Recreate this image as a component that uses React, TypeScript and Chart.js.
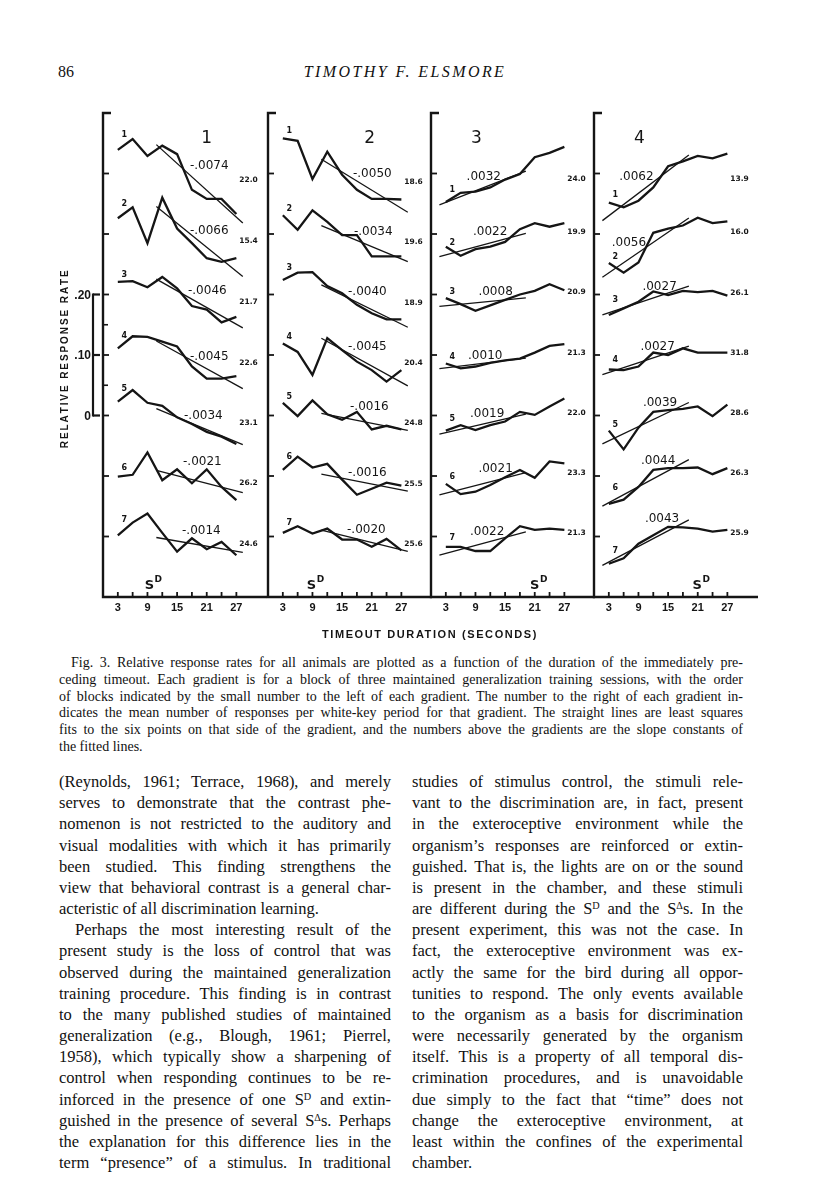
import React, { useEffect, useRef } from "react";
import { Chart, registerables } from "chart.js";

Chart.register(...registerables);

// ---------------- data ----------------
const TIMEOUT_SECONDS = [3, 6, 9, 12, 15, 18, 21, 24, 27];
const TICK_LABEL_VALUES = [3, 9, 15, 21, 27];
const GRADIENT_NUMBERS = ["1", "2", "3", "4", "5", "6", "7"];
const PANEL_TITLES = ["1", "2", "3", "4"];

// relative response rate of each gradient (blocks 1..7), one row per block
const ANIMAL1_RATES = [
  [0.039, 0.057, 0.029, 0.046, 0.032, -0.027, -0.042, -0.042, -0.067],
  [0.026, 0.044, -0.015, 0.06, 0.009, -0.015, -0.04, -0.046, -0.04],
  [0.021, 0.022, 0.012, 0.029, 0.01, -0.019, -0.025, -0.046, -0.037],
  [0.011, 0.031, 0.03, 0.022, 0.014, -0.019, -0.039, -0.039, -0.035],
  [0.023, 0.042, 0.021, 0.016, -0.003, -0.014, -0.027, -0.035, -0.047],
  [-0.001, 0.002, 0.039, -0.007, 0.011, -0.012, 0.011, -0.018, -0.04],
  [0.002, 0.023, 0.038, 0.006, -0.025, -0.003, -0.021, -0.009, -0.031],
];
const ANIMAL2_RATES = [
  [0.058, 0.054, -0.009, 0.036, -0.002, -0.027, -0.042, -0.042, -0.043],
  [0.031, 0.007, 0.039, 0.02, -0.002, -0.002, -0.037, -0.037, -0.037],
  [0.024, 0.036, 0.037, 0.014, 0.002, -0.017, -0.031, -0.041, -0.041],
  [0.019, 0.005, -0.033, 0.028, 0.008, -0.011, -0.025, -0.044, -0.025],
  [0.021, -0.001, 0.025, 0.002, -0.007, 0.006, -0.023, -0.017, -0.023],
  [0.01, 0.032, 0.014, 0.02, -0.006, -0.031, -0.021, -0.011, -0.016],
  [0.006, 0.017, 0.005, 0.013, -0.005, -0.005, -0.017, -0.004, -0.023],
];
const ANIMAL3_RATES = [
  [-0.047, -0.032, -0.03, -0.023, -0.01, -0.001, 0.027, 0.034, 0.044],
  [-0.021, -0.036, -0.025, -0.021, -0.013, 0.008, 0.018, 0.012, 0.018],
  [-0.006, -0.016, -0.027, -0.018, -0.009, 0.0, 0.006, 0.017, 0.007],
  [-0.014, -0.022, -0.019, -0.013, -0.009, -0.006, 0.004, 0.015, 0.018],
  [-0.025, -0.016, -0.024, -0.016, -0.01, 0.006, 0.001, 0.015, 0.028],
  [-0.013, -0.03, -0.026, -0.015, -0.002, 0.01, -0.003, 0.024, 0.021],
  [-0.017, -0.017, -0.024, -0.024, -0.003, 0.017, 0.011, 0.013, 0.011],
];
const ANIMAL4_RATES = [
  [-0.048, -0.056, -0.045, -0.023, 0.012, 0.02, 0.029, 0.025, 0.033],
  [-0.048, -0.064, -0.047, 0.002, 0.009, 0.014, 0.027, 0.018, 0.021],
  [-0.034, -0.023, -0.012, 0.005, -0.001, 0.006, 0.004, 0.006, -0.002],
  [-0.024, -0.025, -0.019, 0.004, 0.0, 0.011, 0.004, 0.004, 0.004],
  [-0.025, -0.056, -0.02, 0.006, 0.009, 0.011, 0.015, -0.001, 0.018],
  [-0.046, -0.039, -0.018, 0.01, 0.013, 0.013, 0.014, 0.003, 0.013],
  [-0.045, -0.036, -0.012, 0.002, 0.016, 0.015, 0.013, 0.008, 0.011],
];

// slope constants of the fitted lines
const ANIMAL1_SLOPES = [-0.0074, -0.0066, -0.0046, -0.0045, -0.0034, -0.0021, -0.0014];
const ANIMAL2_SLOPES = [-0.005, -0.0034, -0.004, -0.0045, -0.0016, -0.0016, -0.002];
const ANIMAL3_SLOPES = [0.0032, 0.0022, 0.0008, 0.001, 0.0019, 0.0021, 0.0022];
const ANIMAL4_SLOPES = [0.0062, 0.0056, 0.0027, 0.0027, 0.0039, 0.0044, 0.0043];

// mean responses per white-key period
const ANIMAL1_MEANS = ["22.0", "15.4", "21.7", "22.6", "23.1", "26.2", "24.6"];
const ANIMAL2_MEANS = ["18.6", "19.6", "18.9", "20.4", "24.8", "25.5", "25.6"];
const ANIMAL3_MEANS = ["24.0", "19.9", "20.9", "21.3", "22.0", "23.3", "21.3"];
const ANIMAL4_MEANS = ["13.9", "16.0", "26.1", "31.8", "28.6", "26.3", "25.9"];

// S-D position (seconds) per animal and side of the fitted six points
const SD_SECONDS = [9, 9, 21, 21];
const FIT_SIDE = ["right", "right", "left", "left"];

const SCALE_BAR_VALUES = [0.2, 0.1, 0];
const SCALE_BAR_LABELS = [".20", ".10", "0"];
const Y_TITLE = "RELATIVE RESPONSE RATE";
const X_TITLE = "TIMEOUT DURATION (SECONDS)";
const GRADIENT_SPACING = 0.1;

// ---------------- layout (positions / styles) ----------------
const INK = "#151515";
const X_MAX = 33.2;
const Y_MAX = 0.8;
const PANEL_AXIS_X = [103, 268, 431, 594];
const PANEL_WIDTH = 164;
const CANVAS_TOP = 100;
const PAD_T = 13;
const PLOT_H = 484;
const X_AXIS_H = 22;
const PAD_B = 10;
const FIT_EXTENT = { right: [10.8, 28.3], left: [1.7, 19.2] };
const SLOPE_LABEL_X = [
  [17.6, 17.6, 17.2, 17.6, 16.4, 16.2, 16.0],
  [17.2, 17.4, 16.2, 16.2, 16.6, 16.2, 16.0],
  [7.2, 8.5, 9.6, 7.5, 7.9, 9.6, 7.9],
  [5.1, 3.6, 9.8, 9.4, 9.9, 9.5, 10.3],
];
const SLOPE_LABEL_DY = [
  [7.5, 3.3, 3.8, -2, -0.5, 14.3, 5.5],
  [-0.8, 2.3, 2.8, 8.3, 8.8, 2.7, 6.5],
  [-3.2, 1.7, 2.8, -1, 1.5, 6.7, 4.2],
  [-3.2, -8.7, 7.8, 8.3, 12.2, 15.3, 17.5],
];
const MEAN_LABEL_DY = [
  [6.5, 7, 7.2, 7.7, 7.8, 7.3, 7.5],
  [8.2, 8.3, 8.2, 7.7, 7.2, 8, 7.8],
  [5.5, -2.3, -2.5, -2.3, -2.8, -3.3, -3.8],
  [5.5, -2.3, -1.2, -1.7, -2.8, -3.3, -3.8],
];
const NUMBER_LABEL_DY = [
  [15, 14, 7, 12, 13, 9, 15],
  [7, 6, 12, 7, 6, 13, 10],
  [12, 4, 6, 7, 12, 7, 9],
  [8, 6, 15, 10, 6, 16, 13],
];
const PANEL_TITLE_X = [21, 20.6, 9.2, 9.2];
const SD_LABEL_OFFSET = [0.4, -0.2, 0, -0.1];

const PANELS = [
  { rates: ANIMAL1_RATES, slopes: ANIMAL1_SLOPES, means: ANIMAL1_MEANS },
  { rates: ANIMAL2_RATES, slopes: ANIMAL2_SLOPES, means: ANIMAL2_MEANS },
  { rates: ANIMAL3_RATES, slopes: ANIMAL3_SLOPES, means: ANIMAL3_MEANS },
  { rates: ANIMAL4_RATES, slopes: ANIMAL4_SLOPES, means: ANIMAL4_MEANS },
];

const CAPTION_LINES = [
  "Fig. 3. Relative response rates for all animals are plotted as a function of the duration of the immediately pre-",
  "ceding timeout. Each gradient is for a block of three maintained generalization training sessions, with the order",
  "of blocks indicated by the small number to the left of each gradient. The number to the right of each gradient in-",
  "dicates the mean number of responses per white-key period for that gradient. The straight lines are least squares",
  "fits to the six points on that side of the gradient, and the numbers above the gradients are the slope constants of",
  "the fitted lines.",
];

const LEFT_COLUMN = [
  "(Reynolds, 1961; Terrace, 1968), and merely",
  "serves to demonstrate that the contrast phe-",
  "nomenon is not restricted to the auditory and",
  "visual modalities with which it has primarily",
  "been studied. This finding strengthens the",
  "view that behavioral contrast is a general char-",
  "acteristic of all discrimination learning.",
  "Perhaps the most interesting result of the",
  "present study is the loss of control that was",
  "observed during the maintained generalization",
  "training procedure. This finding is in contrast",
  "to the many published studies of maintained",
  "generalization (e.g., Blough, 1961; Pierrel,",
  "1958), which typically show a sharpening of",
  "control when responding continues to be re-",
  "inforced in the presence of one S^D and extin-",
  "guished in the presence of several S^Δs. Perhaps",
  "the explanation for this difference lies in the",
  "term \u201cpresence\u201d of a stimulus. In traditional",
];
const RIGHT_COLUMN = [
  "studies of stimulus control, the stimuli rele-",
  "vant to the discrimination are, in fact, present",
  "in the exteroceptive environment while the",
  "organism\u2019s responses are reinforced or extin-",
  "guished. That is, the lights are on or the sound",
  "is present in the chamber, and these stimuli",
  "are different during the S^D and the S^Δs. In the",
  "present experiment, this was not the case. In",
  "fact, the exteroceptive environment was ex-",
  "actly the same for the bird during all oppor-",
  "tunities to respond. The only events available",
  "to the organism as a basis for discrimination",
  "were necessarily generated by the organism",
  "itself. This is a property of all temporal dis-",
  "crimination procedures, and is unavoidable",
  "due simply to the fact that \u201ctime\u201d does not",
  "change the exteroceptive environment, at",
  "least within the confines of the experimental",
  "chamber.",
];
const LEFT_PARAGRAPH_ENDS = [6];
const LEFT_INDENTED = [7];
const RIGHT_PARAGRAPH_ENDS = [18];

function formatSlope(s: number) {
  const t = Math.abs(s).toFixed(4).replace(/^0/, "");
  return (s < 0 ? "-" : "") + t;
}

function drawSpaced(ctx: CanvasRenderingContext2D, text: string, cx: number, cy: number, total: number) {
  const chars = text.split("");
  const widths = chars.map((c) => ctx.measureText(c).width);
  const natural = widths.reduce((a, b) => a + b, 0);
  const gap = (total - natural) / (chars.length - 1);
  let px = cx - total / 2;
  ctx.textAlign = "left";
  chars.forEach((c, i) => {
    ctx.fillText(c, px, cy);
    px += widths[i] + gap;
  });
}

function PanelChart({ index }: { index: number }) {
  const ref = useRef<HTMLCanvasElement | null>(null);
  const padL = index === 0 ? 55 : 10;
  const padR = 12;
  const width = padL + PANEL_WIDTH + padR;
  const height = PAD_T + PLOT_H + X_AXIS_H + PAD_B;
  const left = PANEL_AXIS_X[index] - padL;

  useEffect(() => {
    const panel = PANELS[index];
    const side = FIT_SIDE[index] as "right" | "left";
    const fitIdx = side === "right" ? [3, 4, 5, 6, 7, 8] : [0, 1, 2, 3, 4, 5];
    const datasets: any[] = [];
    panel.rates.forEach((row, g) => {
      const base = (GRADIENT_NUMBERS.length - g) * GRADIENT_SPACING;
      datasets.push({
        data: TIMEOUT_SECONDS.map((s, j) => ({ x: s, y: base + row[j] })),
        borderColor: INK,
        borderWidth: 2.3,
        pointRadius: 0,
        fill: false,
        tension: 0,
        borderJoinStyle: "miter",
      });
      const mx = fitIdx.reduce((a, j) => a + TIMEOUT_SECONDS[j], 0) / fitIdx.length;
      const my = fitIdx.reduce((a, j) => a + row[j], 0) / fitIdx.length;
      const [x0, x1] = FIT_EXTENT[side];
      const slope = panel.slopes[g];
      datasets.push({
        data: [
          { x: x0, y: base + my + slope * (x0 - mx) },
          { x: x1, y: base + my + slope * (x1 - mx) },
        ],
        borderColor: INK,
        borderWidth: 1.3,
        pointRadius: 0,
        fill: false,
        tension: 0,
      });
    });

    const decor = {
      id: "panelDecor",
      afterDatasetsDraw(chart: any) {
        const { ctx, scales } = chart;
        const xs = scales.x;
        const ys = scales.y;
        const ax = xs.getPixelForValue(0);
        const xEnd = xs.getPixelForValue(X_MAX);
        const yTop = ys.getPixelForValue(Y_MAX);
        const yBot = ys.getPixelForValue(0);
        const line = (a: number, b: number, c: number, d: number) => {
          ctx.beginPath();
          ctx.moveTo(a, b);
          ctx.lineTo(c, d);
          ctx.stroke();
        };
        ctx.save();
        ctx.strokeStyle = INK;
        ctx.fillStyle = INK;
        ctx.lineJoin = "miter";
        ctx.lineCap = "butt";
        // axis frame
        ctx.lineWidth = 2.4;
        ctx.beginPath();
        ctx.moveTo(ax + 8, yTop);
        ctx.lineTo(ax, yTop);
        ctx.lineTo(ax, yBot);
        ctx.lineTo(xEnd, yBot);
        ctx.stroke();
        // y ticks
        ctx.lineWidth = 1.8;
        for (let k = 1; k < GRADIENT_NUMBERS.length + 1; k++) {
          const py = ys.getPixelForValue(k * GRADIENT_SPACING);
          line(ax, py, ax + 6, py);
        }
        // x ticks
        TIMEOUT_SECONDS.forEach((s) => {
          const px = xs.getPixelForValue(s);
          line(px, yBot, px, yBot - 5);
        });
        ctx.textBaseline = "middle";
        // labels per gradient
        panel.rates.forEach((row, g) => {
          const base = (GRADIENT_NUMBERS.length - g) * GRADIENT_SPACING;
          const basePx = ys.getPixelForValue(base);
          ctx.font = "bold 8px 'DejaVu Sans'";
          ctx.textAlign = "center";
          const firstPx = ys.getPixelForValue(base + row[0]);
          ctx.fillText(GRADIENT_NUMBERS[g], xs.getPixelForValue(4.3), firstPx - NUMBER_LABEL_DY[index][g]);
          ctx.font = "12px 'DejaVu Sans'";
          ctx.textAlign = "left";
          ctx.fillText(formatSlope(panel.slopes[g]), xs.getPixelForValue(SLOPE_LABEL_X[index][g]), basePx - SLOPE_LABEL_DY[index][g]);
          ctx.font = "bold 7.5px 'DejaVu Sans'";
          ctx.fillText(panel.means[g], xs.getPixelForValue(27.6), basePx + MEAN_LABEL_DY[index][g]);
        });
        // panel title
        ctx.font = "17px 'DejaVu Sans'";
        ctx.textAlign = "center";
        ctx.fillText(PANEL_TITLES[index], xs.getPixelForValue(PANEL_TITLE_X[index]), yTop + 26);
        // S-D marker
        ctx.font = "bold 13px 'DejaVu Sans'";
        const sx = xs.getPixelForValue(SD_SECONDS[index] + SD_LABEL_OFFSET[index]);
        const sy = yBot - 11;
        ctx.fillText("S", sx, sy);
        const sw = ctx.measureText("S").width;
        ctx.font = "bold 9px 'DejaVu Sans'";
        ctx.textAlign = "left";
        ctx.fillText("D", sx + sw / 2 + 0.5, sy - 6);

        if (index === 0) {
          ctx.lineWidth = 1.6;
          [0.35, 0.45].forEach((v) => {
            const py = ys.getPixelForValue(v);
            line(ax, py, ax + 5, py);
          });
          // scale bar
          const origin = 3 * GRADIENT_SPACING;
          const sbX = ax - 10;
          ctx.lineWidth = 2.2;
          line(sbX, ys.getPixelForValue(origin + 0.2) - 1, sbX, ys.getPixelForValue(origin) + 1);
          ctx.font = "bold 12px 'Liberation Sans'";
          ctx.textAlign = "right";
          SCALE_BAR_VALUES.forEach((v, i) => {
            const py = ys.getPixelForValue(origin + v);
            line(sbX, py, sbX + 7, py);
            ctx.fillText(SCALE_BAR_LABELS[i], sbX - 2, py + 1);
          });
          // y title
          ctx.save();
          ctx.translate(ax - 38, ys.getPixelForValue(0.393));
          ctx.rotate(-Math.PI / 2);
          ctx.font = "bold 10px 'Liberation Sans'";
          ctx.textBaseline = "middle";
          drawSpaced(ctx, Y_TITLE, 0, 0, 178);
          ctx.restore();
        }
        ctx.restore();
      },
    };

    const chart = new Chart(ref.current as HTMLCanvasElement, {
      type: "line",
      data: { datasets },
      options: {
        responsive: false,
        maintainAspectRatio: false,
        animation: false,
        events: [],
        layout: { padding: { left: padL, right: padR, top: PAD_T, bottom: PAD_B } },
        plugins: { legend: { display: false }, tooltip: { enabled: false }, title: { display: false } },
        scales: {
          x: {
            type: "linear",
            min: 0,
            max: X_MAX,
            afterBuildTicks: (s: any) => {
              s.ticks = TICK_LABEL_VALUES.map((v) => ({ value: v }));
            },
            afterFit: (s: any) => {
              s.height = X_AXIS_H;
            },
            grid: { display: false, drawTicks: false },
            border: { display: false },
            ticks: {
              autoSkip: false,
              maxRotation: 0,
              padding: 4,
              color: INK,
              font: { family: "'Liberation Sans'", weight: "bold", size: 11 },
              callback: (v: any) => String(v),
            },
          },
          y: { type: "linear", min: 0, max: Y_MAX, display: false },
        },
      } as any,
      plugins: [decor],
    });
    return () => chart.destroy();
  }, [index]);

  return (
    <div style={{ position: "absolute", left, top: CANVAS_TOP, width, height }}>
      <canvas ref={ref} width={width} height={height} style={{ display: "block" }} />
    </div>
  );
}

function renderRich(text: string) {
  const parts = text.split(/(S\^[DΔ])/);
  return parts.map((p, i) => {
    if (p.startsWith("S^")) {
      return (
        <span key={i}>
          S<sup style={{ fontSize: "0.62em", verticalAlign: "0.45em", lineHeight: 0 }}>{p.slice(2)}</sup>
        </span>
      );
    }
    return <span key={i}>{p}</span>;
  });
}

function TextLine({ text, left, width, cy, size, lh, justify, indent }: any) {
  return (
    <div
      style={{
        position: "absolute",
        left: left + (indent || 0),
        width: width - (indent || 0),
        top: cy - lh / 2,
        height: lh,
        lineHeight: lh + "px",
        fontSize: size,
        fontFamily: "'Liberation Serif', serif",
        color: "#111",
        whiteSpace: "nowrap",
        textAlign: justify ? "justify" : "left",
        textAlignLast: justify ? "justify" : "left",
      } as any}
    >
      {renderRich(text)}
    </div>
  );
}

export default function App() {
  const textLeft = 59;
  const textRight = 743;
  const colW = 332;
  const rightColLeft = 412;
  return (
    <div style={{ position: "absolute", left: 0, top: 0, width: 816, height: 1193, background: "#fff", overflow: "hidden" }}>
      <div style={{ position: "absolute", left: textLeft - 1, top: 62, height: 20, lineHeight: "20px", fontSize: 16, fontFamily: "'Liberation Serif', serif", color: "#111" }}>86</div>
      <div style={{ position: "absolute", left: 255, width: 300, textAlign: "center", top: 62, height: 20, lineHeight: "20px", fontSize: 16, fontStyle: "italic", letterSpacing: "2.4px", fontFamily: "'Liberation Serif', serif", color: "#111" }}>TIMOTHY F. ELSMORE</div>

      {PANELS.map((_, i) => (
        <PanelChart key={i} index={i} />
      ))}

      <div style={{ position: "absolute", left: 280, width: 300, textAlign: "center", top: 626, height: 16, lineHeight: "16px", fontSize: 11, fontWeight: "bold", letterSpacing: "1.6px", fontFamily: "'Liberation Sans', sans-serif", color: INK }}>{X_TITLE}</div>

      {CAPTION_LINES.map((t, i) => (
        <TextLine key={"c" + i} text={t} left={textLeft} width={textRight - textLeft} cy={663 + 16.8 * i} size={14} lh={16} justify={i < CAPTION_LINES.length - 1} indent={i === 0 ? 12 : 0} />
      ))}
      {LEFT_COLUMN.map((t, i) => (
        <TextLine key={"l" + i} text={t} left={textLeft} width={colW} cy={782 + 21.17 * i} size={16.5} lh={20} justify={!LEFT_PARAGRAPH_ENDS.includes(i)} indent={LEFT_INDENTED.includes(i) ? 16 : 0} />
      ))}
      {RIGHT_COLUMN.map((t, i) => (
        <TextLine key={"r" + i} text={t} left={rightColLeft} width={textRight - rightColLeft} cy={782 + 21.17 * i} size={16.5} lh={20} justify={!RIGHT_PARAGRAPH_ENDS.includes(i)} indent={0} />
      ))}
    </div>
  );
}
